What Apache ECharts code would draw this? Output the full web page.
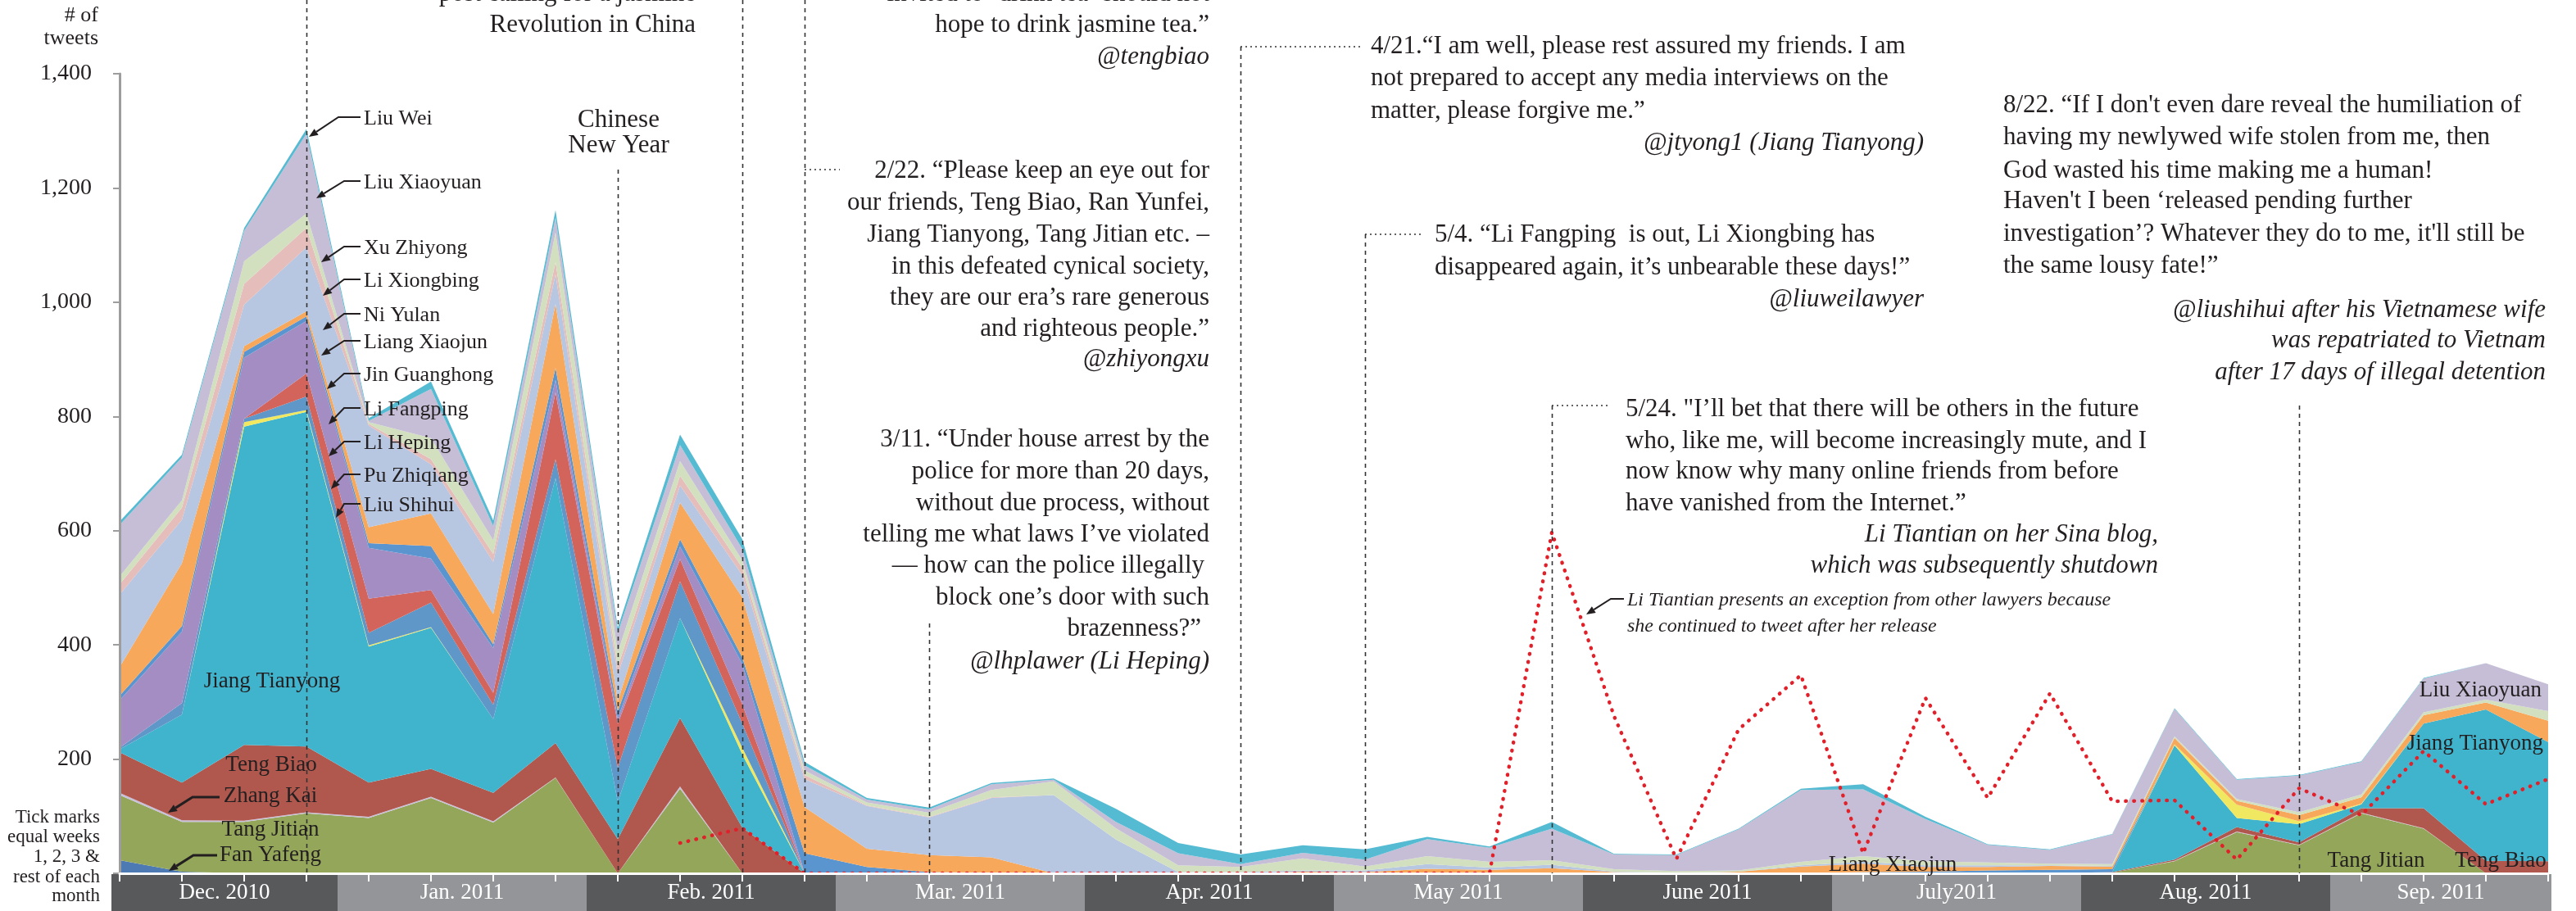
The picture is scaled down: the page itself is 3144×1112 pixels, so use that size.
<!DOCTYPE html>
<html>
<head>
<meta charset="utf-8">
<title>Lawyers' tweets</title>
<script src="https://cdn.jsdelivr.net/npm/echarts@6/dist/echarts.min.js"></script>
<style>
  html, body { margin: 0; padding: 0; background: #fff; }
  #main { width: 3144px; height: 1112px; }
</style>
</head>
<body>
<div id="main"></div>
<script>
// months on the band, 4 weekly ticks each
var months = ['Dec. 2010', 'Jan. 2011', 'Feb. 2011', 'Mar. 2011', 'Apr. 2011',
              'May 2011', 'June 2011', 'July2011', 'Aug. 2011', 'Sep. 2011'];
var weeks = [];
months.forEach(function (m) {
  for (var w = 1; w <= 4; w++) weeks.push(m + ' wk' + w);
});

var yTicks = [0, 200, 400, 600, 800, 1000, 1200, 1400];

// weekly tweet counts, stacked bottom to top
var fanYafeng     = [23,3,0,0,0,0,0,0,0,0, 0,0,0,0,0,0,0,0,0,0, 0,0,0,0,0,0,0,0,0,0, 0,0,0,0,0,0,0,0,0,0];
var tangJitian    = [114,87,90,105,97,132,89,167,0,148, 0,0,0,0,0,0,0,0,0,0, 0,0,0,0,0,0,0,0,0,0, 0,0,1,21,72,49,105,78,0,0];
var zhangKai      = [4,3,2,2,2,2,2,1,0,4, 0,0,0,0,0,0,0,0,0,0, 0,0,0,0,0,0,0,0,0,0, 0,0,0,1,1,1,1,1,0,0];
var tengBiao      = [71,66,133,115,60,49,50,60,60,120, 80,0,0,0,0,0,0,0,0,0, 0,0,0,0,0,0,0,0,0,0, 0,0,1,2,8,4,8,35,22,21];
var jiangTianyong = [5,119,557,586,238,247,129,464,65,175, 128,0,0,0,0,0,0,0,0,0, 0,0,0,0,0,0,0,0,0,0, 0,0,0,200,16,32,7,148,265,209];
var liuShihui     = [0,0,8,3,2,1,0,0,0,0, 12,0,0,0,0,0,0,0,0,0, 0,0,0,0,0,0,0,0,0,0, 0,0,0,2,23,5,1,0,0,0];
var puZhiqiang    = [3,20,6,24,22,43,25,33,60,64, 42,0,0,0,0,0,0,0,0,0, 0,0,0,0,0,0,0,0,0,0, 0,0,0,0,0,0,0,0,0,0];
var liHeping      = [0,0,0,40,60,22,21,117,77,39, 34,0,0,0,0,0,0,0,0,0, 0,0,0,0,0,0,0,0,0,0, 0,0,0,0,0,0,0,0,0,0];
var liFangping    = [83,125,107,92,89,55,78,22,9,22, 70,0,0,0,0,0,0,0,0,0, 0,0,0,0,0,0,0,0,0,0, 0,0,0,0,0,0,0,0,0,0];
var jinGuanghong  = [8,10,10,8,8,22,7,21,13,13, 12,35,11,2,1,0,0,0,0,0, 0,0,0,0,0,0,0,0,2,3, 5,6,5,0,0,0,0,0,0,0];
var liangXiaojun  = [50,110,10,9,28,57,53,112,17,64, 105,81,32,30,27,0,1,0,0,3, 2,8,6,9,2,0,3,12,15,8, 6,7,5,11,7,11,11,15,12,37];
var niYulan       = [127,76,73,112,178,86,91,52,47,30, 39,49,75,66,104,137,58,2,2,2, 3,8,4,6,1,1,0,2,3,3, 3,1,1,0,0,0,0,0,0,0];
var liXiongbing   = [18,21,36,34,3,9,14,21,13,17, 13,7,1,1,1,0,0,0,0,0, 0,0,0,0,0,0,0,0,0,0, 0,0,0,0,0,0,0,0,0,0];
var xuZhiyong     = [14,13,40,25,3,37,24,52,26,26, 13,8,5,7,13,24,20,12,9,21, 7,14,10,8,4,3,2,6,10,7, 5,3,3,3,3,5,5,5,5,17];
var liuXiaoyuan   = [90,75,53,140,2,86,25,26,34,28, 20,9,5,6,10,3,11,21,5,10, 12,30,25,55,26,28,72,126,117,74, 31,24,52,48,34,64,57,59,64,47];
var liuWei        = [6,5,5,8,5,13,10,13,9,18, 17,6,3,3,2,2,23,18,17,13, 18,4,2,12,1,1,1,2,9,4, 1,1,1,1,1,1,1,1,0,0];
// Li Tiantian, drawn on its own (not stacked)
var liTiantian    = [null,null,null,null,null,null,null,null,null, 53,79,
                     0,0,0,0,0,0,0,0,0,0,0,0,
                     597,275,25,252,347,35,307,132,315,126,128,24,149,102,214,121,165];

var layers = [
  ['Fan Yafeng', fanYafeng, '#4d7ab3'],
  ['Tang Jitian', tangJitian, '#93a65a'],
  ['Zhang Kai', zhangKai, '#c8c0da'],
  ['Teng Biao', tengBiao, '#b0584d'],
  ['Jiang Tianyong', jiangTianyong, '#41b4cd'],
  ['Liu Shihui', liuShihui, '#f0e860'],
  ['Pu Zhiqiang', puZhiqiang, '#5f97c9'],
  ['Li Heping', liHeping, '#d2645c'],
  ['Li Fangping', liFangping, '#a48dc3'],
  ['Jin Guanghong', jinGuanghong, '#5b95cf'],
  ['Liang Xiaojun', liangXiaojun, '#f7a85a'],
  ['Ni Yulan', niYulan, '#b7c6e1'],
  ['Li Xiongbing', liXiongbing, '#e5bdbb'],
  ['Xu Zhiyong', xuZhiyong, '#d3e0bf'],
  ['Liu Xiaoyuan', liuXiaoyuan, '#c5bed6'],
  ['Liu Wei', liuWei, '#55bbd2']
];

var FONT = '"Liberation Serif", "Times New Roman", serif';
var INK = '#231f20';

var series = layers.map(function (l) {
  return {
    name: l[0], type: 'line', stack: 'total', data: l[1],
    symbol: 'none', smooth: false,
    lineStyle: { width: 0 },
    areaStyle: { color: l[2], opacity: 1 },
    itemStyle: { color: l[2] }
  };
});
series.push({
  name: 'Li Tiantian', type: 'line', data: liTiantian, z: 5,
  symbol: 'none', connectNulls: false,
  lineStyle: { color: '#e1202a', width: 4.5, type: [0.5, 9.5], cap: 'round' }
});

var chart = echarts.init(document.getElementById('main'));
var option = {
  animation: false,
  backgroundColor: '#fff',
  grid: { left: 146, right: 34, top: 90, bottom: 46 },
  xAxis: {
    type: 'category', data: weeks, boundaryGap: false, z: 20,
    axisLine: { lineStyle: { color: '#fff', width: 3 } },
    axisTick: { interval: 0, length: 10, lineStyle: { color: '#fff', width: 2 } },
    axisLabel: { show: false },
    splitLine: { show: false }
  },
  yAxis: {
    type: 'value', min: yTicks[0], max: yTicks[yTicks.length - 1], interval: 200, z: 10,
    axisLine: { show: true, lineStyle: { color: '#9d9d9d', width: 3 } },
    axisTick: { show: true, length: 8, lineStyle: { color: '#9d9d9d', width: 2 } },
    splitLine: { show: false },
    axisLabel: {
      margin: 34, color: INK, fontFamily: FONT, fontSize: 28,
      formatter: function (v) { return v === 0 ? '' : v.toLocaleString('en-US'); }
    }
  },
  series: series
};
chart.setOption(option);

// ---- annotations, placed from the axes ----
function wx(k) { return chart.convertToPixel({ xAxisIndex: 0 }, weeks[k]); }
var base = chart.convertToPixel({ yAxisIndex: 0 }, 0);

function txt(s, x, y, align, italic, size) {
  return {
    type: 'text', x: x, y: y, z: 40,
    style: {
      text: s, fill: INK, fontFamily: FONT, fontSize: size || 31,
      fontStyle: italic ? 'italic' : 'normal',
      align: align || 'left', verticalAlign: 'middle'
    }
  };
}

function arrow(pts, w) {
  var n = pts.length, a = pts[n - 2], b = pts[n - 1];
  var dx = b[0] - a[0], dy = b[1] - a[1], len = Math.sqrt(dx * dx + dy * dy);
  var ux = dx / len, uy = dy / len, hl = 11, hw = 4.5;
  var bx = b[0] - ux * hl, by = b[1] - uy * hl;
  var line = pts.slice(0, n - 1).concat([[bx, by]]);
  return [
    { type: 'polyline', z: 40, shape: { points: line },
      style: { stroke: INK, lineWidth: w || 2, fill: null } },
    { type: 'polygon', z: 40,
      shape: { points: [b, [bx - uy * hw, by + ux * hw], [bx + uy * hw, by - ux * hw]] },
      style: { fill: INK } }
  ];
}

var g = [];

// month band under the axis
months.forEach(function (m, i) {
  var x0 = i === 0 ? wx(0) - 10 : (wx(4 * i - 1) + wx(4 * i)) / 2;
  var x1 = i === months.length - 1 ? wx(4 * i + 3) + 4 : (wx(4 * i + 3) + wx(4 * i + 4)) / 2;
  g.push({ type: 'rect', z: 1, shape: { x: x0, y: base + 1, width: x1 - x0, height: 1112 - base },
           style: { fill: i % 2 === 0 ? '#58595b' : '#939598' } });
  g.push({ type: 'text', z: 2, x: (x0 + x1) / 2, y: base + 24,
           style: { text: m, fill: '#fff', fontFamily: FONT, fontSize: 27, align: 'center', verticalAlign: 'middle' } });
});

// dashed event lines: [week, top y]
var eventLines = [[3, 0], [8, 207], [10, 0], [11, 0], [13, 761], [18, 57], [20, 286], [23, 495], [35, 495]];
eventLines.forEach(function (e) {
  var x = Math.round(wx(e[0])) + 0.5;
  g.push({ type: 'line', z: 30, shape: { x1: x, y1: e[1], x2: x, y2: base },
           style: { stroke: '#333', lineWidth: 1.6, lineDash: [5, 5] } });
});
// dotted leaders to the quotes: [week, y, end x]
[[11, 207, 1025], [18, 57, 1660], [20, 286, 1738], [23, 495, 1962]].forEach(function (c) {
  var x = Math.round(wx(c[0]));
  g.push({ type: 'line', z: 30, shape: { x1: x, y1: c[1], x2: c[2], y2: c[1] },
           style: { stroke: '#333', lineWidth: 1.6, lineDash: [2, 4] } });
});

// quotes
var texts = [
  ['post calling for a jasmine', 849, -7, 'right'],
  ['Revolution in China', 849, 31, 'right'],
  ['invited to \u2018drink tea\u2019 should not', 1476, -7, 'right'],
  ['hope to drink jasmine tea.\u201d', 1476, 31, 'right'],
  ['@tengbiao', 1476, 70, 'right', true],
  ['Chinese', 755, 147, 'center'],
  ['New Year', 755, 178, 'center'],

  ['2/22. \u201cPlease keep an eye out for', 1476, 209, 'right'],
  ['our friends, Teng Biao, Ran Yunfei,', 1476, 248, 'right'],
  ['Jiang Tianyong, Tang Jitian etc. \u2013', 1476, 287, 'right'],
  ['in this defeated cynical society,', 1476, 326, 'right'],
  ['they are our era\u2019s rare generous', 1476, 364, 'right'],
  ['and righteous people.\u201d', 1476, 402, 'right'],
  ['@zhiyongxu', 1476, 439, 'right', true],

  ['3/11. \u201cUnder house arrest by the', 1476, 537, 'right'],
  ['police for more than 20 days,', 1476, 576, 'right'],
  ['without due process, without', 1476, 615, 'right'],
  ['telling me what laws I\u2019ve violated', 1476, 653, 'right'],
  ['\u2014 how can the police illegally', 1470, 691, 'right'],
  ['block one\u2019s door with such', 1476, 730, 'right'],
  ['brazenness?\u201d', 1466, 768, 'right'],
  ['@lhplawer (Li Heping)', 1476, 808, 'right', true],

  ['4/21.\u201cI am well, please rest assured my friends. I am', 1673, 57],
  ['not prepared to accept any media interviews on the', 1673, 96],
  ['matter, please forgive me.\u201d', 1673, 136],
  ['@jtyong1 (Jiang Tianyong)', 2348, 175, 'right', true],

  ['5/4. \u201cLi Fangping  is out, Li Xiongbing has', 1751, 287],
  ['disappeared again, it\u2019s unbearable these days!\u201d', 1751, 327],
  ['@liuweilawyer', 2348, 366, 'right', true],

  ['5/24. "I\u2019ll bet that there will be others in the future', 1984, 500],
  ['who, like me, will become increasingly mute, and I', 1984, 539],
  ['now know why many online friends from before', 1984, 576],
  ['have vanished from the Internet.\u201d', 1984, 615],
  ['Li Tiantian on her Sina blog,', 2634, 653, 'right', true],
  ['which was subsequently shutdown', 2634, 691, 'right', true],
  ['Li Tiantian presents an exception from other lawyers because', 1986, 733, 'left', true, 24],
  ['she continued to tweet after her release', 1986, 765, 'left', true, 24],

  ['8/22. \u201cIf I don\'t even dare reveal the humiliation of', 2445, 129],
  ['having my newlywed wife stolen from me, then', 2445, 168],
  ['God wasted his time making me a human!', 2445, 209],
  ['Haven\'t I been \u2018released pending further', 2445, 246],
  ['investigation\u2019? Whatever they do to me, it\'ll still be', 2445, 286],
  ['the same lousy fate!\u201d', 2445, 325],
  ['@liushihui after his Vietnamese wife', 3107, 379, 'right', true],
  ['was repatriated to Vietnam', 3107, 416, 'right', true],
  ['after 17 days of illegal detention', 3107, 455, 'right', true],

  // axis notes
  ['# of', 120, 19, 'right', false, 26],
  ['tweets', 120, 47, 'right', false, 26],
  ['Tick marks', 122, 998, 'right', false, 23],
  ['equal weeks', 122, 1022, 'right', false, 23],
  ['1, 2, 3 &', 122, 1046, 'right', false, 23],
  ['rest of each', 122, 1071, 'right', false, 23],
  ['month', 122, 1094, 'right', false, 23],

  // series names on the areas
  ['Jiang Tianyong', 332, 832, 'center', false, 27],
  ['Teng Biao', 331, 934, 'center', false, 27],
  ['Zhang Kai', 330, 972, 'center', false, 27],
  ['Tang Jitian', 330, 1013, 'center', false, 27],
  ['Fan Yafeng', 330, 1044, 'center', false, 27],
  ['Liu Xiaoyuan', 3102, 843, 'right', false, 27],
  ['Jiang Tianyong', 3104, 908, 'right', false, 27],
  ['Tang Jitian', 2900, 1051, 'center', false, 27],
  ['Teng Biao', 3052, 1051, 'center', false, 27],
  ['Liang Xiaojun', 2310, 1056, 'center', false, 27]
];
texts.forEach(function (t) { g.push(txt(t[0], t[1], t[2], t[3], t[4], t[5])); });

// callouts at the December peak: [name, y, tip x, tip y]
var callouts = [
  ['Liu Wei', 143, 377, 167], ['Liu Xiaoyuan', 221, 386, 242], ['Xu Zhiyong', 301, 392, 320],
  ['Li Xiongbing', 341, 394, 361], ['Ni Yulan', 383, 394, 403], ['Liang Xiaojun', 416, 392, 434],
  ['Jin Guanghong', 456, 399, 475], ['Li Fangping', 498, 401, 518], ['Li Heping', 539, 401, 557],
  ['Pu Zhiqiang', 579, 404, 597], ['Liu Shihui', 615, 410, 632]
];
callouts.forEach(function (c, i) {
  g.push(txt(c[0], 444, c[1] + 2, 'left', false, 26));
  g = g.concat(arrow([[440, c[1]], [i === 0 ? 413 : 420, c[1]], [c[2], c[3]]]));
});
g = g.concat(arrow([[268, 973], [235, 973], [205, 992]], 3));
g = g.concat(arrow([[265, 1044], [236, 1044], [206, 1063]], 3));
g = g.concat(arrow([[1982, 731], [1966, 731], [1936, 750]], 2));

chart.setOption({ graphic: g });
</script>
</body>
</html>
